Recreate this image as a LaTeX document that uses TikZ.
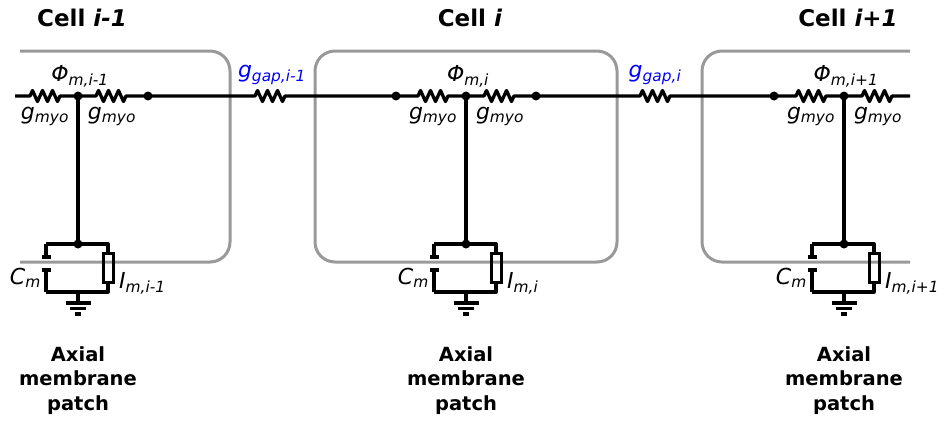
\documentclass[tikz,border=0pt]{standalone}
\usepackage{fontspec}
\setmainfont{DejaVu Sans}
\usepackage{tikz}
\def\zz{-- ++(2.5,-5.5) -- ++(5,11) -- ++(5,-11) -- ++(5,11) -- ++(5,-11) -- ++(5,11) -- ++(2.5,-5.5)}
\def\rd{4.5pt}
\def\dt{circle (\rd)}

\tikzset{
  wire/.style={line width=3.3pt, line join=round},
  plate/.style={line width=3.6pt},
  cellbox/.style={draw=black!40, line width=3pt, rounded corners=20pt},
  ibox/.style={draw, line width=3pt, minimum width=10pt, minimum height=29pt, inner sep=0pt},
  lbl/.style={font=\fontsize{22}{26}\selectfont\itshape, inner sep=0pt},
  title/.style={font=\fontsize{23}{27}\selectfont\bfseries, inner sep=0pt, anchor=base},
  patch/.style={font=\fontsize{19.5}{24.5}\selectfont\bfseries, align=center, inner sep=0pt, anchor=north},
}

\begin{document}
\begin{tikzpicture}[x=1pt, y=-1pt]
\useasboundingbox (0,0) rectangle (942,421);

% cell outlines
\draw[cellbox] (20,51) -- (230,51) -- (230,262) -- (20,262);
\draw[cellbox] (315,51) rectangle (617,262);
\draw[cellbox] (910,51) -- (702,51) -- (702,262) -- (910,262);

\coordinate (w0) at (15,96);
\coordinate (w1) at (910,96);
\coordinate (g1) at (255,96);
\coordinate (g2) at (640,96);

% one membrane patch per cell
\foreach \X/\n/\s in {78/a/{i-1}, 466/b/i, 844/c/{i+1}}{
  \coordinate (\n-l) at (\X-70,96);
  \coordinate (\n-r1) at (\X-48,96);
  \coordinate (\n-m) at (\X,96);
  \coordinate (\n-r2) at (\X+18,96);
  \coordinate (\n-r) at (\X+70,96);
  \coordinate (\n-t) at (\X,244);
  \coordinate (\n-c1) at (\X-32,244);
  \coordinate (\n-c2) at (\X-32,292);
  \coordinate (\n-i1) at (\X+30,244);
  \coordinate (\n-i2) at (\X+30,292);
  \coordinate (\n-g) at (\X,292);
  \coordinate (\n-e) at (\X,303);
  \node[ibox] (\n-ib) at (\X+30,267.5) {};

  \draw[wire] (\n-m) -- (\n-t);
  \draw[wire] (\n-c1) -- (\n-i1) -- (\n-ib.north);
  \draw[wire] (\n-ib.south) -- (\n-i2) -- (\n-c2);
  \draw[wire] (\n-c1) -- ++(0,13) (\n-c2) -- ++(0,-22);
  \draw[plate] (\X-36.5,257) -- (\X-27.5,257) (\X-36.5,270) -- (\X-27.5,270);
  \draw[wire] (\n-g) -- (\n-e);
  \draw[wire] (\X-12.5,303) -- (\X+12.5,303) (\X-8,308.5) -- (\X+8,308.5) (\X-3,314) -- (\X+3,314);
  \fill (\n-t) \dt;

  \node[lbl, anchor=base] at (\X+2,81) {Φ\textsubscript{m,\s}};
  \node[lbl, anchor=base] at (\X-33,119) {g\textsubscript{myo}};
  \node[lbl, anchor=base] at (\X+34,119) {g\textsubscript{myo}};
  \node[lbl, anchor=base east] at (\X-37,284) {C\textsubscript{m}};
  \node[lbl, anchor=base west] at (\X+41,288) {I\textsubscript{m,\s}};
  \node[title] at (\X+4,26) {Cell \textit{\s}};
  \node[patch] at (\X,346) {Axial\\membrane\\patch};
}

% axial wire
\draw[wire] (w0) -- (a-r1) \zz -- (a-m) -- (a-r2) \zz -- (a-r) -- (g1) \zz -- (b-l)
  -- (b-r1) \zz -- (b-m) -- (b-r2) \zz -- (b-r) -- (g2) \zz -- (c-l)
  -- (c-r1) \zz -- (c-m) -- (c-r2) \zz -- (w1);
\foreach \p in {(a-m), (a-r), (b-l), (b-m), (b-r), (c-l), (c-m)}{
  \fill \p \dt;
}

\node[lbl, blue, anchor=base] at (272,77) {g\textsubscript{gap,i-1}};
\node[lbl, blue, anchor=base] at (655,77) {g\textsubscript{gap,i}};
\end{tikzpicture}
\end{document}
